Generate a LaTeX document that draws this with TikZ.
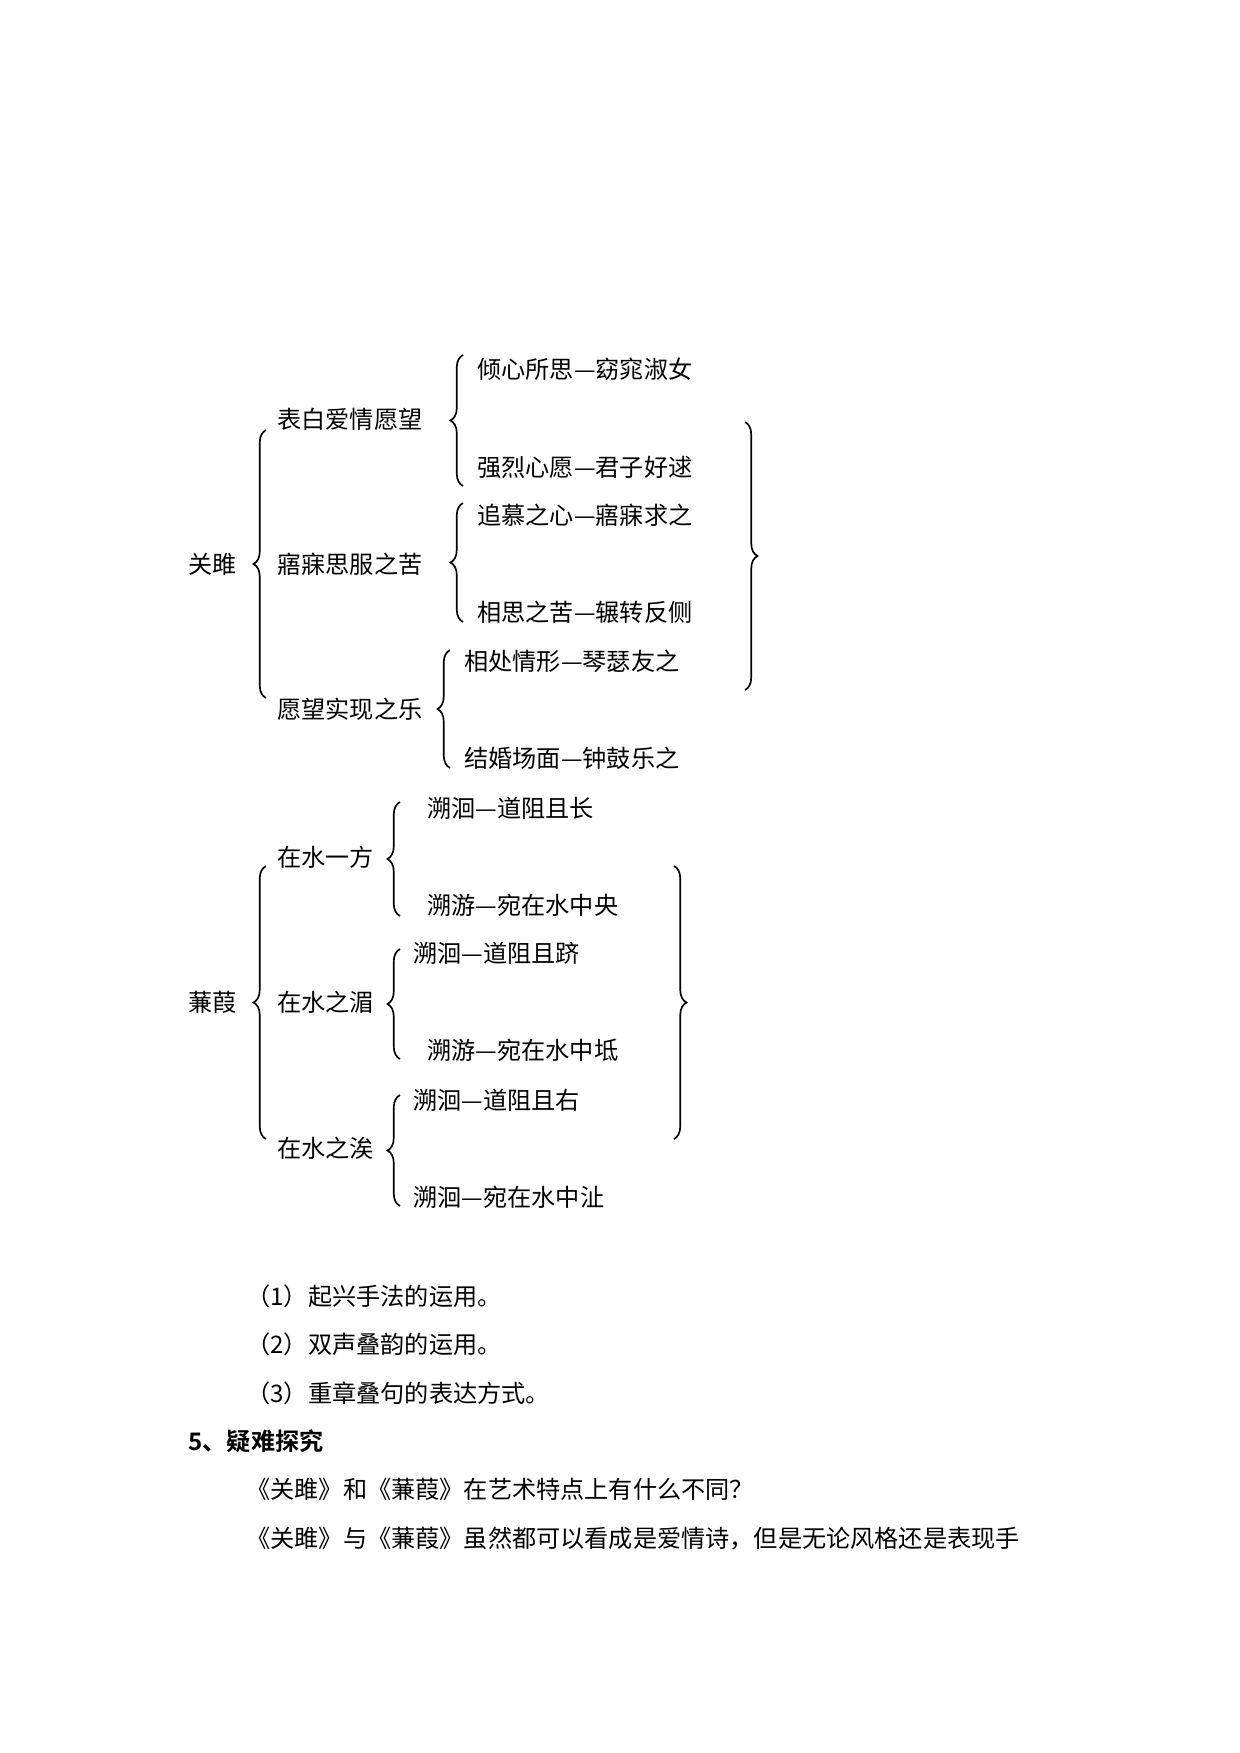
\documentclass[tikz,border=0pt]{standalone}
\usepackage{fontspec}
\setmainfont{Noto Sans CJK SC}[BoldFont={Noto Sans CJK SC Bold}]
\usetikzlibrary{decorations.pathreplacing}
\begin{document}
\begin{tikzpicture}[x=0.48pt,y=-0.48pt,
  t/.style={anchor=west,inner sep=0pt,font=\fontsize{11.6}{12}\selectfont},
  br/.style={draw,thick,decorate,decoration={brace,amplitude=6pt}}]
\useasboundingbox (0,0) rectangle (1240,1753);
% Guanju
\node[t] (gj) at (188,564) {关雎};
\draw[br] (266,698) -- (266,430);
\node[t] (a1) at (277,419) {表白爱情愿望};
\node[t] (a2) at (277,564) {寤寐思服之苦};
\node[t] (a3) at (277,709) {愿望实现之乐};
\draw[br] (463,486) -- (463,355);
\draw[br] (463,622) -- (463,503);
\draw[br] (450,768) -- (450,650);
\node[t] (l1) at (477,369) {倾心所思—窈窕淑女};
\node[t] (l2) at (477,467) {强烈心愿—君子好逑};
\node[t] (l3) at (477,515) {追慕之心—寤寐求之};
\node[t] (l4) at (477,612) {相思之苦—辗转反侧};
\node[t] (l5) at (464,661) {相处情形—琴瑟友之};
\node[t] (l6) at (464,758) {结婚场面—钟鼓乐之};
\draw[br] (745,422) -- (745,690);
% Jianjia
\node[t] (jj) at (188,1002) {蒹葭};
\draw[br] (266,1139) -- (266,866);
\node[t] (b1) at (277,857) {在水一方};
\node[t] (b2) at (277,1002) {在水之湄};
\node[t] (b3) at (277,1148) {在水之涘};
\draw[br] (400,916) -- (400,802);
\draw[br] (400,1059) -- (400,949);
\draw[br] (400,1206) -- (400,1095);
\node[t] (m1) at (427,808) {溯洄—道阻且长};
\node[t] (m2) at (427,905) {溯游—宛在水中央};
\node[t] (m3) at (413,953) {溯洄—道阻且跻};
\node[t] (m4) at (427,1050) {溯游—宛在水中坻};
\node[t] (m5) at (413,1100) {溯洄—道阻且右};
\node[t] (m6) at (413,1197) {溯洄—宛在水中沚};
\draw[br] (674,866) -- (674,1139);
% text
\node[t] (p1) at (246,1296) {（1）起兴手法的运用。};
\node[t] (p2) at (246,1344) {（2）双声叠韵的运用。};
\node[t] (p3) at (246,1393) {（3）重章叠句的表达方式。};
\node[t,font=\fontsize{11.6}{12}\selectfont\bfseries] (h5) at (188,1441) {5、疑难探究};
\node[t] (q1) at (246,1489) {《关雎》和《蒹葭》在艺术特点上有什么不同？};
\node[t] (q2) at (246,1539) {《关雎》与《蒹葭》虽然都可以看成是爱情诗，但是无论风格还是表现手};
\end{tikzpicture}
\end{document}
